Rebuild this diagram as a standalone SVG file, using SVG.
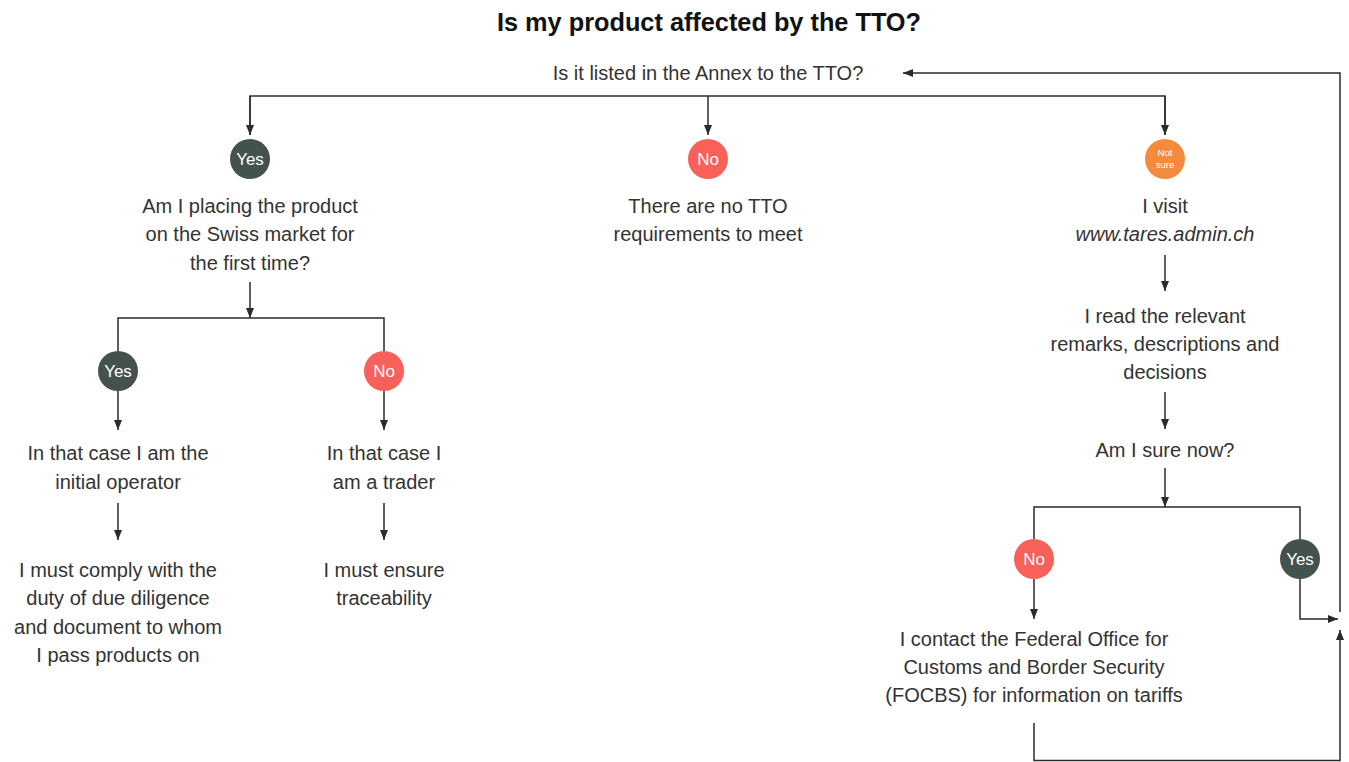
<svg xmlns="http://www.w3.org/2000/svg" width="1349" height="762" viewBox="0 0 1349 762">
  <defs>
    <marker id="arrow" viewBox="0 0 10 8" refX="10" refY="4" markerWidth="10" markerHeight="8" markerUnits="userSpaceOnUse" orient="auto">
      <path d="M0,0 L10,4 L0,8 Z" fill="#2b2b2b"/>
    </marker>
  </defs>
  <style>
    .t { font-family: "Liberation Sans", Arial, sans-serif; font-size: 20px; fill: #333333; text-anchor: middle; }
    .title { font-family: "Liberation Sans", Arial, sans-serif; font-size: 25.3px; font-weight: bold; fill: #111111; text-anchor: middle; }
    .c { font-family: "Liberation Sans", Arial, sans-serif; font-size: 17px; fill: #ffffff; text-anchor: middle; }
    .cs { font-family: "Liberation Sans", Arial, sans-serif; font-size: 9.5px; fill: #ffffff; text-anchor: middle; }
    .yes { fill: #44524e; }
    .no { fill: #f8605a; }
    .unsure { fill: #f28c3c; }
    .edge { fill: none; stroke: #2b2b2b; stroke-width: 1.5; }
    .arr { marker-end: url(#arrow); }
  </style>

  <rect width="1349" height="762" fill="#ffffff"/>

  <text class="title" x="709" y="31">Is my product affected by the TTO?</text>

  <!-- connectors -->
  <g id="connectors">
    <path class="edge" d="M250,135 V96 H1165 V135"/>
    <path class="edge arr" d="M250,96 V135"/>
    <path class="edge arr" d="M708,96 V135"/>
    <path class="edge arr" d="M1165,96 V135"/>

    <path class="edge arr" d="M250,282 V318"/>
    <path class="edge" d="M118,351 V318 H384 V351"/>
    <path class="edge arr" d="M118,391 V430"/>
    <path class="edge arr" d="M384,391 V430"/>
    <path class="edge arr" d="M118,503 V540"/>
    <path class="edge arr" d="M384,503 V540"/>

    <path class="edge arr" d="M1165,255 V291"/>
    <path class="edge arr" d="M1165,392 V429"/>
    <path class="edge arr" d="M1165,468 V507"/>
    <path class="edge" d="M1034,539 V507 H1300 V539"/>
    <path class="edge arr" d="M1034,579 V619"/>
    <path class="edge arr" d="M1300,579 V619 H1338"/>
    <path class="edge arr" d="M1034,723 V760.5 H1340 V630"/>
    <path class="edge arr" d="M1340,612 V73 H903"/>
  </g>

  <!-- question at the top -->
  <g id="q-annex">
    <text class="t" x="708" y="80">Is it listed in the Annex to the TTO?</text>
  </g>

  <!-- left branch -->
  <g id="yes-annex">
    <circle class="yes" cx="250" cy="159" r="20"/>
    <text class="c" x="250" y="165">Yes</text>
  </g>
  <g id="q-first-time">
    <text class="t" x="250" y="213">Am I placing the product</text>
    <text class="t" x="250" y="241">on the Swiss market for</text>
    <text class="t" x="250" y="270">the first time?</text>
  </g>
  <g id="yes-first">
    <circle class="yes" cx="118" cy="371" r="20"/>
    <text class="c" x="118" y="377">Yes</text>
  </g>
  <g id="no-first">
    <circle class="no" cx="384" cy="371" r="20"/>
    <text class="c" x="384" y="377">No</text>
  </g>
  <g id="initial-operator">
    <text class="t" x="118" y="460">In that case I am the</text>
    <text class="t" x="118" y="489">initial operator</text>
  </g>
  <g id="trader">
    <text class="t" x="384" y="460">In that case I</text>
    <text class="t" x="384" y="489">am a trader</text>
  </g>
  <g id="due-diligence">
    <text class="t" x="118" y="577">I must comply with the</text>
    <text class="t" x="118" y="605">duty of due diligence</text>
    <text class="t" x="118" y="634">and document to whom</text>
    <text class="t" x="118" y="662">I pass products on</text>
  </g>
  <g id="traceability">
    <text class="t" x="384" y="577">I must ensure</text>
    <text class="t" x="384" y="605">traceability</text>
  </g>

  <!-- middle branch -->
  <g id="no-annex">
    <circle class="no" cx="708" cy="159" r="20"/>
    <text class="c" x="708" y="165">No</text>
  </g>
  <g id="no-requirements">
    <text class="t" x="708" y="213">There are no TTO</text>
    <text class="t" x="708" y="241">requirements to meet</text>
  </g>

  <!-- right branch -->
  <g id="not-sure">
    <circle class="unsure" cx="1165" cy="159" r="20"/>
    <text class="cs" x="1165" y="156">Not</text>
    <text class="cs" x="1165" y="168">sure</text>
  </g>
  <g id="visit-tares">
    <text class="t" x="1165" y="213">I visit</text>
    <text class="t" x="1165" y="241" font-style="italic">www.tares.admin.ch</text>
  </g>
  <g id="read-remarks">
    <text class="t" x="1165" y="323">I read the relevant</text>
    <text class="t" x="1165" y="351">remarks, descriptions and</text>
    <text class="t" x="1165" y="379">decisions</text>
  </g>
  <g id="q-sure">
    <text class="t" x="1165" y="457">Am I sure now?</text>
  </g>
  <g id="no-sure">
    <circle class="no" cx="1034" cy="559" r="20"/>
    <text class="c" x="1034" y="565">No</text>
  </g>
  <g id="yes-sure">
    <circle class="yes" cx="1300" cy="559" r="20"/>
    <text class="c" x="1300" y="565">Yes</text>
  </g>
  <g id="contact-focbs">
    <text class="t" x="1034" y="646">I contact the Federal Office for</text>
    <text class="t" x="1034" y="674">Customs and Border Security</text>
    <text class="t" x="1034" y="702">(FOCBS) for information on tariffs</text>
  </g>
</svg>
